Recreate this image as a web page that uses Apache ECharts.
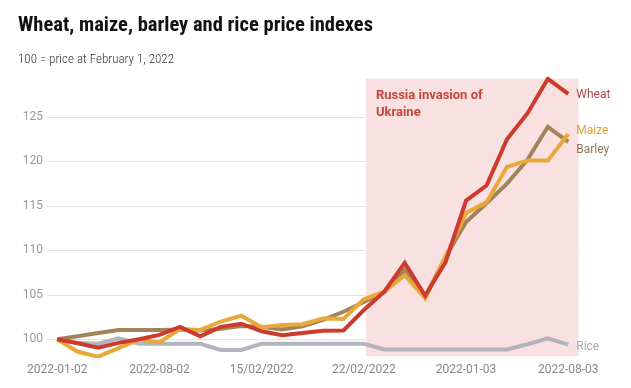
<!DOCTYPE html>
<html>
<head>
<meta charset="utf-8">
<script src="https://cdn.jsdelivr.net/npm/echarts@6/dist/echarts.min.js"></script>
<style>
html,body{margin:0;padding:0;background:#fff;}
#chart{width:631px;height:388px;}
</style>
</head>
<body>
<div id="chart"></div>
<script>
// ---- data ----
var categories = ["2022-01-02","2022-02-02","2022-03-02","2022-04-02","07/02/2022","2022-08-02","2022-09-02","2022-10-02","2022-11-02","14/02/2022","15/02/2022","16/02/2022","17/02/2022","18/02/2022","21/02/2022","22/02/2022","23/02/2022","24/02/2022","25/02/2022","28/02/2022","2022-01-03","2022-02-03","2022-03-03","2022-04-03","2022-07-03","2022-08-03"];
var wheat  = [100, 99.55, 99.05, 99.6, 100.0, 100.5, 101.4, 100.35, 101.4, 101.75, 100.9, 100.45, 100.7, 100.95, 101.0, 103.3, 105.35, 108.6, 104.9, 108.7, 115.6, 117.3, 122.5, 125.4, 129.3, 127.6];
var maize  = [100, 98.6, 98.05, 99.0, 100.0, 99.65, 101.15, 101.05, 102.0, 102.65, 101.35, 101.6, 101.7, 102.35, 102.3, 104.5, 105.35, 107.2, 104.6, 109.3, 114.2, 115.4, 119.4, 120.1, 120.1, 123.1];
var barley = [100, 100.35, 100.7, 101.05, 101.05, 101.05, 101.1, 101.0, 101.2, 101.5, 101.4, 101.1, 101.45, 102.2, 103.1, 104.2, 105.3, 107.8, 104.8, 109.3, 113.2, 115.3, 117.5, 120.2, 123.9, 122.2];
var rice   = [100, 99.6, 99.5, 100.1, 99.5, 99.5, 99.5, 99.5, 98.8, 98.8, 99.5, 99.5, 99.5, 99.5, 99.5, 99.5, 98.85, 98.85, 98.85, 98.85, 98.85, 98.85, 98.85, 99.45, 100.1, 99.4];
var seriesNames = ["Rice", "Barley", "Maize", "Wheat"];
var shadeStart = 15.1;           // invasion period start (category index)
var shadeEnd = 25.5;             // end of plotted period
var shadeLabel = "Russia invasion of\nUkraine";
var yMin = 98.1, yMax = 129.3;
var titleText = "Wheat, maize, barley and rice price indexes";
var subtitleText = "100 = price at February 1, 2022";

var colors = {Wheat:"#cd3a2e", Maize:"#e9a93a", Barley:"#a2835a", Rice:"#b4b4bc"};
var labelColors = {Wheat:"#a84848", Maize:"#dfa230", Barley:"#8e7558", Rice:"#a8a8ae"};
var labelOffsets = {Wheat:[0,1], Maize:[0,-3], Barley:[0,8], Rice:[0,2]};
var leaders = {Wheat:false, Maize:true, Barley:true, Rice:false};
var values = {Wheat:wheat, Maize:maize, Barley:barley, Rice:rice};

var font = "Roboto, 'Noto Sans', sans-serif";
var narrow = "'Roboto Condensed', 'Liberation Sans Narrow', 'DejaVu Sans Condensed', Roboto, sans-serif";

var chart = echarts.init(document.getElementById('chart'), null, {renderer:'canvas'});

var lineSeries = seriesNames.map(function(name, k){
  return {
    name: name,
    type: 'line',
    xAxisIndex: 0,
    yAxisIndex: 0,
    data: values[name],
    symbol: 'none',
    smooth: false,
    z: 3 + k,
    lineStyle: {color: colors[name], width: 4, join: 'miter'},
    itemStyle: {color: colors[name]},
    labelLine: {show: leaders[name], lineStyle: {color: labelColors[name], width: 1, type: 'dotted'}},
    endLabel: {
      show: true,
      formatter: '{a}',
      color: labelColors[name],
      fontFamily: font,
      fontSize: 12,
      distance: 8,
      offset: labelOffsets[name]
    }
  };
});

var option = {
  animation: false,
  backgroundColor: '#fff',
  title: [
    {text: titleText, left: 13, top: 10,
     textStyle: {fontFamily: narrow, fontWeight: 'bold', fontSize: 20.5, color: '#111'}},
    {text: subtitleText, left: 13, top: 48,
     textStyle: {fontFamily: narrow, fontWeight: 300, fontSize: 13, color: '#333'}}
  ],
  grid: {left: 47, right: 52.5, top: 78.8, bottom: 31.8, containLabel: false},
  xAxis: [
    {
      type: 'category',
      data: categories,
      boundaryGap: true,
      axisLine: {show: false},
      axisTick: {show: false},
      splitLine: {show: false},
      axisLabel: {interval: 4, color: '#888', fontFamily: font, fontSize: 12, margin: 8}
    },
    {
      type: 'value', min: -0.5, max: 25.5, show: false
    }
  ],
  yAxis: {
    type: 'value',
    min: yMin,
    max: yMax,
    axisLine: {show: false},
    axisTick: {show: false},
    axisLabel: {color: '#999', fontFamily: font, fontSize: 12, margin: 4, showMinLabel: false, showMaxLabel: false},
    splitLine: {show: true, showMinLine: false, showMaxLine: false, lineStyle: {color: '#e2e2e2', width: 1}}
  },
  series: [{
    type: 'line',
    xAxisIndex: 1,
    yAxisIndex: 0,
    data: [],
    z: 1,
    silent: true,
    markArea: {
      silent: true,
      itemStyle: {color: '#f8e1e0', opacity: 1},
      label: {
        show: true,
        position: 'insideTopLeft',
        distance: 0,
        offset: [10, 8],
        formatter: shadeLabel,
        color: '#c8443e',
        fontFamily: font,
        fontWeight: 'bold',
        fontSize: 13,
        lineHeight: 17
      },
      data: [[{xAxis: shadeStart, yAxis: yMin}, {xAxis: shadeEnd, yAxis: yMax}]]
    }
  }].concat(lineSeries)
};
chart.setOption(option);
</script>
</body>
</html>
